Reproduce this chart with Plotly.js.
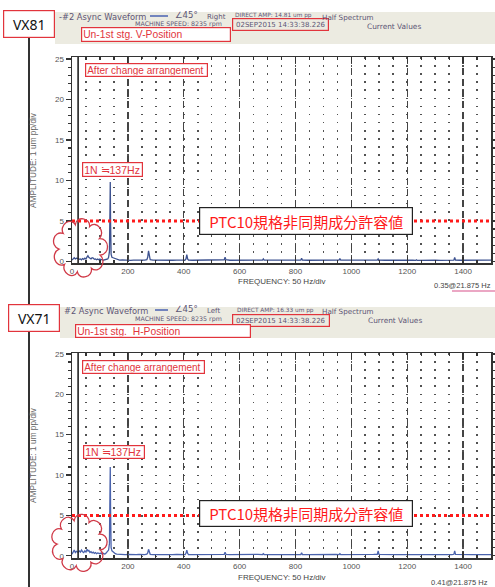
<!DOCTYPE html>
<html>
<head>
<meta charset="utf-8">
<script src="https://cdn.plot.ly/plotly-3.0.1.min.js"></script>
<style>
  html, body { margin: 0; padding: 0; background: #ffffff; }
  #chart { width: 495px; height: 587px; }
</style>
</head>
<body>
<div id="chart"></div>
<script>
// Half-spectrum amplitude (um pp) versus frequency (Hz) for the two probes
const freqHz = [
  0, 4, 8, 12, 16, 21.875, 26, 30, 34, 38,
  42, 46, 50, 54, 57, 60, 64, 68, 72, 76,
  80, 84, 88, 92, 96, 100, 104, 108, 112, 116,
  120, 124, 128, 131, 134, 136, 137, 138, 140, 143,
  147, 151, 155, 160, 170, 180, 190, 200, 210, 220,
  230, 240, 250, 260, 268, 271, 274, 277, 280, 290,
  300, 315, 330, 345, 360, 375, 390, 405, 408, 411,
  414, 417, 430, 450, 470, 490, 510, 530, 545, 548,
  551, 565, 585, 605, 625, 645, 665, 682, 685, 688,
  705, 725, 745, 765, 785, 805, 819, 822, 825, 845,
  865, 885, 905, 925, 945, 956, 959, 962, 980, 1000,
  1020, 1040, 1060, 1080, 1093, 1096, 1099, 1120, 1140, 1160,
  1180, 1200, 1220, 1230, 1233, 1236, 1260, 1280, 1300, 1320,
  1340, 1360, 1367, 1370, 1373, 1390, 1410, 1430, 1450, 1470,
  1490, 1500
];

const ampVX81 = [
  0.15, 0.30, 0.45, 0.30, 0.40, 0.35, 0.25, 0.30, 0.20, 0.35,
  0.25, 0.40, 0.30, 0.55, 0.70, 0.50, 0.35, 0.30, 0.45, 0.40,
  0.25, 0.30, 0.20, 0.30, 0.20, 0.30, 0.20, 0.25, 0.15, 0.20,
  0.20, 0.25, 0.30, 0.50, 1.20, 6.50, 9.80, 5.00, 0.90, 0.50,
  0.45, 0.40, 0.30, 0.20, 0.15, 0.18, 0.14, 0.16, 0.13, 0.15,
  0.14, 0.16, 0.13, 0.15, 0.20, 0.50, 1.30, 0.40, 0.20, 0.15,
  0.14, 0.16, 0.13, 0.15, 0.14, 0.16, 0.13, 0.15, 0.30, 0.85,
  0.30, 0.15, 0.14, 0.16, 0.13, 0.15, 0.14, 0.16, 0.20, 0.50,
  0.20, 0.14, 0.16, 0.13, 0.15, 0.14, 0.16, 0.15, 0.30, 0.15,
  0.14, 0.16, 0.13, 0.15, 0.14, 0.16, 0.15, 0.40, 0.15, 0.14,
  0.16, 0.13, 0.15, 0.14, 0.16, 0.15, 0.35, 0.15, 0.14, 0.16,
  0.13, 0.15, 0.14, 0.16, 0.15, 0.30, 0.15, 0.14, 0.16, 0.13,
  0.15, 0.14, 0.16, 0.12, 0.20, 0.12, 0.15, 0.14, 0.16, 0.13,
  0.15, 0.14, 0.15, 0.50, 0.15, 0.14, 0.16, 0.13, 0.15, 0.14,
  0.16, 0.15
];

const ampVX71 = [
  0.20, 0.50, 0.70, 0.40, 0.55, 0.41, 0.60, 0.45, 0.70, 0.50,
  0.40, 0.60, 0.45, 0.80, 0.55, 0.70, 0.40, 0.50, 0.35, 0.45,
  0.30, 0.40, 0.25, 0.35, 0.30, 0.25, 0.35, 0.20, 0.30, 0.20,
  0.25, 0.40, 0.50, 0.70, 1.50, 7.50, 11.00, 6.00, 1.00, 0.60,
  0.50, 0.30, 0.25, 0.20, 0.15, 0.18, 0.14, 0.16, 0.13, 0.15,
  0.14, 0.16, 0.13, 0.15, 0.20, 0.35, 0.80, 0.30, 0.18, 0.15,
  0.14, 0.16, 0.13, 0.15, 0.14, 0.16, 0.13, 0.15, 0.30, 0.70,
  0.30, 0.15, 0.14, 0.16, 0.13, 0.15, 0.14, 0.16, 0.18, 0.45,
  0.18, 0.14, 0.16, 0.13, 0.15, 0.14, 0.16, 0.15, 0.25, 0.15,
  0.14, 0.16, 0.13, 0.15, 0.14, 0.16, 0.15, 0.35, 0.15, 0.14,
  0.16, 0.13, 0.15, 0.14, 0.16, 0.15, 0.25, 0.15, 0.14, 0.16,
  0.13, 0.15, 0.14, 0.16, 0.18, 0.60, 0.18, 0.14, 0.16, 0.13,
  0.15, 0.14, 0.16, 0.12, 0.15, 0.12, 0.15, 0.14, 0.16, 0.13,
  0.15, 0.14, 0.18, 0.60, 0.18, 0.14, 0.16, 0.13, 0.15, 0.14,
  0.16, 0.15
];

const freqTicks = [0, 200, 400, 600, 800, 1000, 1200, 1400];
const freqTickText = ['0', '200', '400', '600', '800', '1000', '1200', '1400'];
const ampTicks = [0, 5, 10, 15, 20, 25];

const limitAmp = 5;            // allowable asynchronous component level
const cursorHz = [21.875, 21.875];
const cursorAmp = [0.35, 0.41];
const runSpeedHz = 137;

// page geometry helpers (pixels -> paper fraction)
const W = 495, H = 587;
const PX = x => x / W;
const PY = y => 1 - y / H;

const SANS = 'Liberation Sans, Arial, sans-serif';
const WIDE = 'DejaVu Sans, Verdana, sans-serif';
const HEAD = '#5d5575';
const RED = '#e2343c';

function xAxis(domain, anchor) {
  return {
    domain: domain, anchor: anchor, range: [0, 1500],
    tickvals: freqTicks, ticktext: freqTickText,
    ticks: 'inside', ticklen: 6, tickwidth: 1.2, tickcolor: '#333',
    showline: true, linecolor: '#333', linewidth: 1.5, mirror: 'ticks',
    showgrid: true, gridcolor: '#444', gridwidth: 1.4, griddash: '7px,4px',
    zeroline: false,
    minor: { dtick: 50, ticks: 'inside', ticklen: 3, tickcolor: '#333',
             showgrid: true, gridcolor: '#525252', gridwidth: 1.6, griddash: '1.6px,6.5px' },
    tickfont: { family: SANS, size: 8, color: '#555' }
  };
}
function yAxis(domain, anchor, range) {
  return {
    domain: domain, anchor: anchor, range: range,
    tickvals: ampTicks,
    ticks: 'outside', ticklen: 5, tickwidth: 1.2, tickcolor: '#333',
    showline: true, linecolor: '#333', linewidth: 1.5, mirror: 'ticks',
    showgrid: false, zeroline: false,
    minor: { dtick: 1, ticks: 'outside', ticklen: 3, tickcolor: '#333', showgrid: false },
    tickfont: { family: SANS, size: 8, color: '#555' }
  };
}

// scalloped "cloud" outline: round bumps (cubic half-circles) along an ellipse
function cloudPath(cx, cy, rx, ry, n) {
  const pts = [];
  for (let i = 0; i <= n; i++) {
    const a = 2 * Math.PI * i / n + 0.3;
    pts.push([cx + rx * Math.cos(a), cy + ry * Math.sin(a)]);
  }
  let d = 'M' + PX(pts[0][0]) + ',' + PY(pts[0][1]);
  for (let i = 1; i <= n; i++) {
    const p0 = pts[i - 1], p1 = pts[i];
    const mx = (p0[0] + p1[0]) / 2, my = (p0[1] + p1[1]) / 2;
    let nx = mx - cx, ny = my - cy;
    const nl = Math.hypot(nx, ny); nx /= nl; ny /= nl;
    const L = Math.hypot(p1[0] - p0[0], p1[1] - p0[1]);
    const h = (4 / 3) * (L / 2) * 0.95;
    d += ' C' + PX(p0[0] + nx * h) + ',' + PY(p0[1] + ny * h) + ' ' +
         PX(p1[0] + nx * h) + ',' + PY(p1[1] + ny * h) + ' ' +
         PX(p1[0]) + ',' + PY(p1[1]);
  }
  return d + ' Z';
}

function text(t, x, y, size, color, anchor, extra, family) {
  return Object.assign({
    xref: 'paper', yref: 'paper', x: PX(x), y: PY(y), text: t, showarrow: false,
    xanchor: anchor || 'left', yanchor: 'middle',
    font: { family: family || SANS, size: size, color: color }
  }, extra || {});
}
function box(t, x0, y0, x1, y1, size, color, border, opts) {
  opts = opts || {};
  return {
    xref: 'paper', yref: 'paper', x: PX(x0), y: PY(y0), xanchor: 'left', yanchor: 'top',
    text: t, showarrow: false, width: x1 - x0 - 4, height: y1 - y0 - 4,
    align: opts.align || 'left', valign: 'middle',
    bordercolor: border, borderwidth: opts.bw || 1.2, borderpad: 1,
    bgcolor: opts.bg || '#ffffff',
    font: { family: opts.family || SANS, size: size, color: color }
  };
}

const traces = [
  { x: freqHz, y: ampVX81, xaxis: 'x', yaxis: 'y', type: 'scatter', mode: 'lines',
    line: { color: '#3d5290', width: 1.3 }, hoverinfo: 'skip' },
  { x: freqHz, y: ampVX71, xaxis: 'x2', yaxis: 'y2', type: 'scatter', mode: 'lines',
    line: { color: '#4a63ad', width: 1.3 }, hoverinfo: 'skip' }
];

// panel layout: header band rows, band left edge, plot rows, y range
const panels = [
  { band: [12, 44], bandX: 55, plot: [57, 263], range: [-0.2, 25.25] },
  { band: [307, 338], bandX: 60, plot: [353, 558], range: [-0.28, 25.12] }
];

const shapes = [];
panels.forEach((p, i) => {
  shapes.push({ type: 'rect', xref: 'paper', yref: 'paper', layer: 'below',
    x0: PX(p.bandX), x1: PX(495), y0: PY(p.band[1]), y1: PY(p.band[0]),
    fillcolor: '#ecebe1', line: { width: 0 } });
  const xa = i === 0 ? 'x' : 'x2', ya = i === 0 ? 'y' : 'y2';
  // cursor
  shapes.push({ type: 'line', xref: xa, yref: ya + ' domain', x0: cursorHz[i], x1: cursorHz[i],
    y0: 0, y1: 1, line: { color: '#222', width: 1.6 } });
  // allowable limit
  shapes.push({ type: 'line', xref: xa, yref: ya, x0: 0, x1: 1500, y0: limitAmp, y1: limitAmp,
    line: { color: '#ff1a1a', width: 3, dash: 'dot' } });
});
// page edge line on the left
shapes.push({ type: 'line', xref: 'paper', yref: 'paper', x0: PX(29), x1: PX(29),
  y0: PY(38), y1: PY(587), line: { color: '#333', width: 2 } });
// trace-legend strokes in the headers
shapes.push({ type: 'line', xref: 'paper', yref: 'paper', x0: PX(150), x1: PX(168),
  y0: PY(16), y1: PY(16), line: { color: '#4a62b0', width: 1.5 } });
shapes.push({ type: 'line', xref: 'paper', yref: 'paper', x0: PX(155), x1: PX(168),
  y0: PY(310), y1: PY(310), line: { color: '#4a62b0', width: 1.5 } });
// clouds around the low-frequency region
shapes.push({ type: 'path', xref: 'paper', yref: 'paper', path: cloudPath(80, 248, 21, 24, 9),
  line: { color: '#d03a48', width: 1.3 } });
shapes.push({ type: 'path', xref: 'paper', yref: 'paper', path: cloudPath(79, 543, 22, 23, 9),
  line: { color: '#d03a48', width: 1.3 } });
// underline of the cursor readout
shapes.push({ type: 'line', xref: 'paper', yref: 'paper', x0: PX(452), x1: PX(495),
  y0: PY(291), y1: PY(291), line: { color: '#d8508a', width: 1.2 } });

const cursorLabel = i => cursorAmp[i].toFixed(2) + '@' + cursorHz[i].toFixed(3) + ' Hz';
const nLabel = '1N ≒' + runSpeedHz + 'Hz';
const limitLabel = 'PTC10規格非同期成分許容値';
const CJK = 'Noto Sans CJK JP, sans-serif';

const annotations = [
  // ---- upper panel header
  box('', 232, 18, 329, 31, 8, HEAD, RED, { bg: 'rgba(0,0,0,0)' }),
  text('-#2 Async Waveform', 57, 17, 8.3, HEAD, 'left', null, WIDE),
  text('∠45°', 173, 15, 8.5, HEAD, 'left', null, WIDE),
  text('Right', 205, 17, 7, HEAD, 'left', null, WIDE),
  text('DIRECT AMP: 14.81 um pp', 233, 15.5, 5.8, HEAD, 'left', null, WIDE),
  text('Half Spectrum', 320, 17, 7.2, HEAD, 'left', null, WIDE),
  text('MACHINE SPEED: 8235 rpm', 133, 24, 6.3, HEAD, 'left', null, WIDE),
  text('02SEP2015 14:33:38.226', 234, 25, 7, HEAD, 'left', null, WIDE),
  text('Current Values', 365, 26, 7.4, HEAD, 'left', null, WIDE),
  box('VX81', 3, 10, 55, 38, 14, '#111', RED, { align: 'center', family: 'Noto Sans, sans-serif' }),
  box('Un-1st stg. V-Position', 81, 27, 231, 42, 10.3, RED, RED),
  box('After change arrangement', 85, 63, 208, 77, 10, RED, RED),
  box(nLabel, 82, 162, 143, 177, 10.5, RED, RED),
  box(limitLabel, 199, 207, 413, 235, 15, '#ff1a1a', '#222', { align: 'center', family: CJK }),
  text('AMPLITUDE: 1 um pp/div', 33, 160, 8.3, '#666', 'center', { textangle: -90 }),
  text('FREQUENCY: 50 Hz/div', 282, 281, 8, '#444', 'center'),
  text(cursorLabel(0), 493, 285, 7.5, '#444', 'right'),

  // ---- lower panel header
  box('', 232, 314, 330, 327, 8, HEAD, RED, { bg: 'rgba(0,0,0,0)' }),
  text('#2 Async Waveform', 62, 311, 8.3, HEAD, 'left', null, WIDE),
  text('∠45°', 173, 309, 8.5, HEAD, 'left', null, WIDE),
  text('Left', 205, 311, 7, HEAD, 'left', null, WIDE),
  text('DIRECT AMP: 16.33 um pp', 235, 310, 5.8, HEAD, 'left', null, WIDE),
  text('Half Spectrum', 320, 311, 7.2, HEAD, 'left', null, WIDE),
  text('MACHINE SPEED: 8235 rpm', 133, 319, 6.3, HEAD, 'left', null, WIDE),
  text('02SEP2015 14:33:38.226', 234, 320.5, 7, HEAD, 'left', null, WIDE),
  text('Current Values', 366, 320, 7.4, HEAD, 'left', null, WIDE),
  box('VX71', 8, 304, 60, 332, 14, '#111', RED, { align: 'center', family: 'Noto Sans, sans-serif' }),
  box('Un-1st stg.  H-Position', 75, 324, 251, 338, 10.3, RED, RED),
  box('After change arrangement', 82, 360, 205, 374, 10, RED, RED),
  box(nLabel, 83, 445, 145, 459, 10.5, RED, RED),
  box(limitLabel, 199, 500, 413, 527, 15, '#ff1a1a', '#222', { align: 'center', family: CJK }),
  text('AMPLITUDE: 1 um pp/div', 33, 455, 8.3, '#666', 'center', { textangle: -90 }),
  text('FREQUENCY: 50 Hz/div', 282, 577, 8, '#444', 'center'),
  text(cursorLabel(1), 490, 582, 7.5, '#444', 'right')
];

const layout = {
  width: W, height: H,
  margin: { l: 0, r: 0, t: 0, b: 0, pad: 0 },
  paper_bgcolor: '#ffffff', plot_bgcolor: '#ffffff',
  showlegend: false,
  xaxis: xAxis([PX(72), PX(491)], 'y'),
  yaxis: yAxis([PY(panels[0].plot[1]), PY(panels[0].plot[0])], 'x', panels[0].range),
  xaxis2: xAxis([PX(72), PX(491)], 'y2'),
  yaxis2: yAxis([PY(panels[1].plot[1]), PY(panels[1].plot[0])], 'x2', panels[1].range),
  shapes: shapes,
  annotations: annotations
};

Plotly.newPlot('chart', traces, layout, { staticPlot: true, displayModeBar: false });
</script>
</body>
</html>
